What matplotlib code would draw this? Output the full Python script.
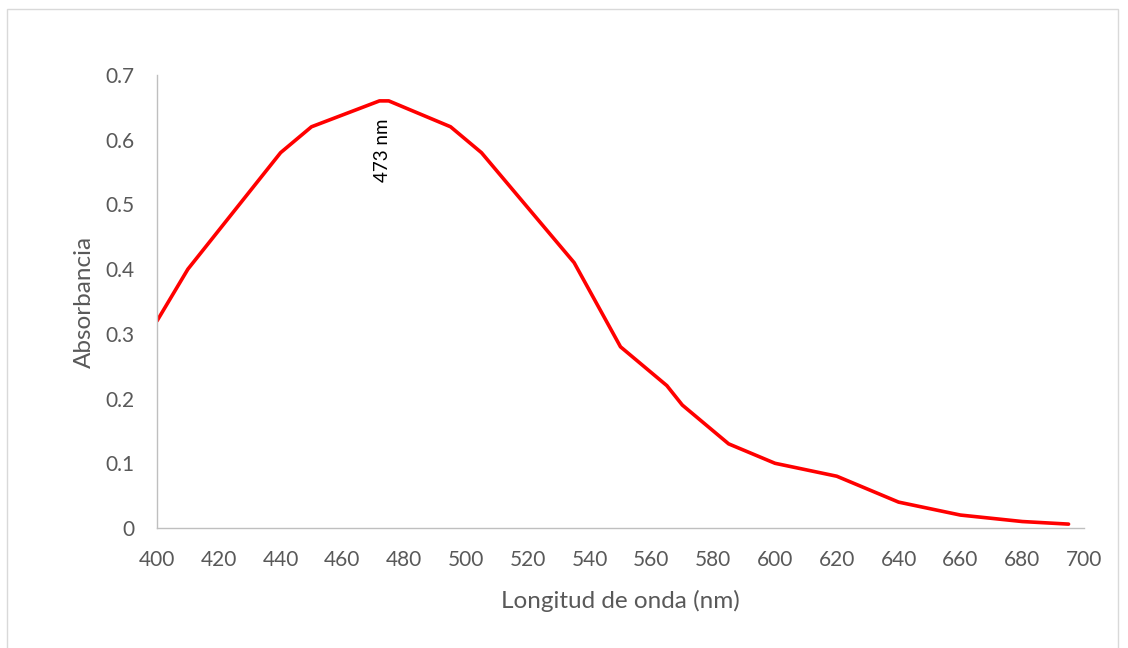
import matplotlib.pyplot as plt
from matplotlib.patches import Rectangle

# espectro de absorcion
longitud = [400, 410, 440, 450, 472, 475, 495, 505, 535, 550, 565, 570, 585, 600, 620, 640, 660, 680, 695]
absorb = [0.32, 0.40, 0.58, 0.62, 0.66, 0.66, 0.62, 0.58, 0.41, 0.28, 0.22, 0.19, 0.13, 0.10, 0.08, 0.04, 0.02, 0.01, 0.006]
pico = 473
x_ticks = list(range(400, 701, 20))
y_ticks = [0, 0.1, 0.2, 0.3, 0.4, 0.5, 0.6, 0.7]

plt.rcParams['font.family'] = ['Lato', 'DejaVu Sans']
gris = '#595959'

fig = plt.figure(figsize=(11.28, 6.48), dpi=100)
fig.patches.append(Rectangle((7/1128, -0.01), 1111/1128, 1 - 9/648 + 0.01, transform=fig.transFigure,
                             fill=False, edgecolor='#D9D9D9', linewidth=1))
ax = fig.add_axes([157/1128, 1 - 528/648, (1084 - 157)/1128, (528 - 75)/648])

ax.plot(longitud, absorb, color='#FF0000', linewidth=2.6, solid_joinstyle='round', solid_capstyle='round')
ax.text(pico, 0.584, f'{pico} nm', rotation=90, ha='center', va='center', fontsize=13.5, color='black')

ax.set_xlim(400, 700)
ax.set_ylim(0, 0.7)
ax.set_xticks(x_ticks)
ax.set_yticks(y_ticks)
ax.set_yticklabels(['0' if v == 0 else f'{v:g}' for v in y_ticks])
ax.tick_params(length=0, labelsize=15, labelcolor=gris)
ax.tick_params(axis='x', pad=16)
ax.tick_params(axis='y', pad=16)
for s in ['top', 'right']:
    ax.spines[s].set_visible(False)
for s in ['left', 'bottom']:
    ax.spines[s].set_color('#BFBFBF')
    ax.spines[s].set_linewidth(1)
ax.set_xlabel('Longitud de onda (nm)', fontsize=17.5, color=gris, labelpad=14)
ax.set_ylabel('Absorbancia', fontsize=17.5, color=gris, labelpad=8)

fig.savefig('out.png', dpi=100)
